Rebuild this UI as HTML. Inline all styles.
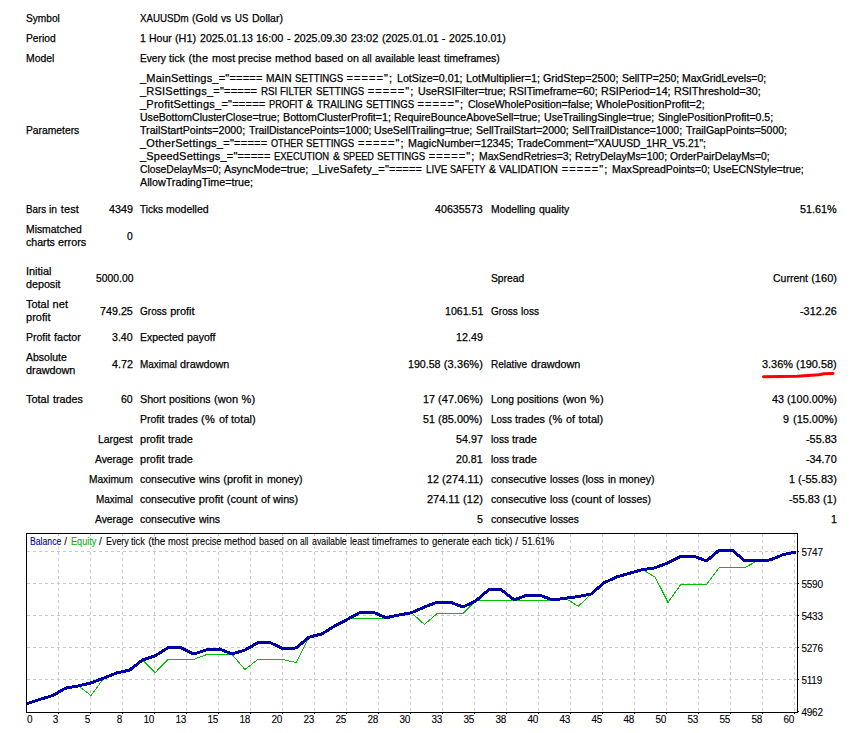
<!DOCTYPE html>
<html><head><meta charset="utf-8"><style>
html,body{margin:0;padding:0;background:#fff}
body{width:861px;height:733px;overflow:hidden;position:relative;font-family:"Liberation Sans",sans-serif;font-size:11px;color:#000}
.t{position:absolute;white-space:pre;line-height:13px;transform-origin:0 0;-webkit-text-stroke-width:0.25px}
.c{position:absolute;white-space:pre;font-size:10px;line-height:10px;letter-spacing:-0.3px;-webkit-text-stroke-width:0.1px;transform-origin:0 0}
.hd{font-size:10px;letter-spacing:-0.254px}
.u{position:absolute}
</style></head><body>
<svg style="position:absolute;left:0;top:0" width="861" height="733">
<g stroke="#c8c8c8" stroke-width="1" stroke-dasharray="3 3" shape-rendering="crispEdges"><line x1="27" y1="551.5" x2="797" y2="551.5"/><line x1="27" y1="583.5" x2="797" y2="583.5"/><line x1="27" y1="615.5" x2="797" y2="615.5"/><line x1="27" y1="647.5" x2="797" y2="647.5"/><line x1="27" y1="679.5" x2="797" y2="679.5"/><line x1="58.5" y1="534" x2="58.5" y2="712"/><line x1="90.5" y1="534" x2="90.5" y2="712"/><line x1="122.5" y1="534" x2="122.5" y2="712"/><line x1="154.5" y1="534" x2="154.5" y2="712"/><line x1="186.5" y1="534" x2="186.5" y2="712"/><line x1="218.5" y1="534" x2="218.5" y2="712"/><line x1="250.5" y1="534" x2="250.5" y2="712"/><line x1="282.5" y1="534" x2="282.5" y2="712"/><line x1="314.5" y1="534" x2="314.5" y2="712"/><line x1="346.5" y1="534" x2="346.5" y2="712"/><line x1="378.5" y1="534" x2="378.5" y2="712"/><line x1="410.5" y1="534" x2="410.5" y2="712"/><line x1="442.5" y1="534" x2="442.5" y2="712"/><line x1="474.5" y1="534" x2="474.5" y2="712"/><line x1="506.5" y1="534" x2="506.5" y2="712"/><line x1="538.5" y1="534" x2="538.5" y2="712"/><line x1="570.5" y1="534" x2="570.5" y2="712"/><line x1="602.5" y1="534" x2="602.5" y2="712"/><line x1="634.5" y1="534" x2="634.5" y2="712"/><line x1="666.5" y1="534" x2="666.5" y2="712"/><line x1="698.5" y1="534" x2="698.5" y2="712"/><line x1="730.5" y1="534" x2="730.5" y2="712"/><line x1="762.5" y1="534" x2="762.5" y2="712"/><line x1="794.5" y1="534" x2="794.5" y2="712"/></g>
<rect x="28" y="536" width="528" height="11" fill="#fff"/>
<polyline points="27.0,703.7 39.8,699.4 52.6,695.6 65.5,688.2 78.3,685.9 91.1,695.6 103.9,678.0 116.7,672.9 129.6,670.1 142.4,660.1 155.2,672.6 168.0,659.4 180.8,659.4 193.7,659.4 206.5,654.6 219.3,654.6 232.1,654.6 244.9,669.4 257.8,659.6 270.6,659.6 283.4,659.6 296.2,662.6 309.0,637.2 321.9,633.9 334.7,626.0 347.5,618.3 360.3,618.3 373.1,618.3 386.0,618.3 398.8,615.1 411.6,612.7 424.4,624.5 437.2,613.5 450.1,613.5 462.9,613.5 475.7,601.0 488.5,600.4 501.3,600.2 514.2,600.2 527.0,600.2 539.8,600.2 552.6,600.3 565.4,598.2 578.3,606.3 591.1,594.0 603.9,582.9 616.7,577.0 629.5,573.3 642.4,569.6 655.2,577.1 668.0,602.4 680.8,584.5 693.6,584.5 706.5,584.5 719.3,567.6 732.1,567.6 744.9,567.6 757.7,560.6 770.6,559.9 783.4,554.5 796.2,551.9" fill="none" stroke="#00c000" stroke-width="1" stroke-linejoin="miter" shape-rendering="crispEdges"/>
<polyline points="27.0,703.7 39.8,699.4 52.6,695.6 65.5,688.2 78.3,685.9 91.1,682.9 103.9,678.0 116.7,672.9 129.6,670.1 142.4,660.1 155.2,655.7 168.0,647.8 180.8,647.8 193.7,654.0 206.5,649.9 219.3,649.0 232.1,653.9 244.9,650.1 257.8,642.8 270.6,642.8 283.4,648.9 296.2,647.9 309.0,637.2 321.9,633.9 334.7,626.0 347.5,619.3 360.3,612.3 373.1,612.1 386.0,617.7 398.8,615.1 411.6,612.7 424.4,607.1 437.2,602.1 450.1,602.1 462.9,607.0 475.7,601.0 488.5,589.9 501.3,589.8 514.2,599.9 527.0,595.1 539.8,595.1 552.6,600.0 565.4,598.2 578.3,596.6 591.1,594.0 603.9,582.9 616.7,577.0 629.5,573.3 642.4,569.6 655.2,567.8 668.0,562.8 680.8,556.2 693.6,556.1 706.5,561.0 719.3,550.0 732.1,550.0 744.9,561.0 757.7,560.6 770.6,559.9 783.4,554.5 796.2,551.9" fill="none" stroke="#0000a8" stroke-width="3" stroke-linejoin="round" shape-rendering="crispEdges"/>
<rect x="26.5" y="533.5" width="771" height="179" fill="none" stroke="#000" stroke-width="1" shape-rendering="crispEdges"/>
<g stroke="#000" stroke-width="1" shape-rendering="crispEdges"><line x1="798" y1="551.5" x2="799" y2="551.5"/><line x1="798" y1="583.5" x2="799" y2="583.5"/><line x1="798" y1="615.5" x2="799" y2="615.5"/><line x1="798" y1="647.5" x2="799" y2="647.5"/><line x1="798" y1="679.5" x2="799" y2="679.5"/><line x1="798" y1="711.5" x2="799" y2="711.5"/><line x1="58.5" y1="713" x2="58.5" y2="714"/><line x1="90.5" y1="713" x2="90.5" y2="714"/><line x1="122.5" y1="713" x2="122.5" y2="714"/><line x1="154.5" y1="713" x2="154.5" y2="714"/><line x1="186.5" y1="713" x2="186.5" y2="714"/><line x1="218.5" y1="713" x2="218.5" y2="714"/><line x1="250.5" y1="713" x2="250.5" y2="714"/><line x1="282.5" y1="713" x2="282.5" y2="714"/><line x1="314.5" y1="713" x2="314.5" y2="714"/><line x1="346.5" y1="713" x2="346.5" y2="714"/><line x1="378.5" y1="713" x2="378.5" y2="714"/><line x1="410.5" y1="713" x2="410.5" y2="714"/><line x1="442.5" y1="713" x2="442.5" y2="714"/><line x1="474.5" y1="713" x2="474.5" y2="714"/><line x1="506.5" y1="713" x2="506.5" y2="714"/><line x1="538.5" y1="713" x2="538.5" y2="714"/><line x1="570.5" y1="713" x2="570.5" y2="714"/><line x1="602.5" y1="713" x2="602.5" y2="714"/><line x1="634.5" y1="713" x2="634.5" y2="714"/><line x1="666.5" y1="713" x2="666.5" y2="714"/><line x1="698.5" y1="713" x2="698.5" y2="714"/><line x1="730.5" y1="713" x2="730.5" y2="714"/><line x1="762.5" y1="713" x2="762.5" y2="714"/><line x1="794.5" y1="713" x2="794.5" y2="714"/></g>
</svg>
<div class="c" style="left:801.6px;top:548px">5747</div>
<div class="c" style="left:801.6px;top:580px">5590</div>
<div class="c" style="left:801.6px;top:612px">5433</div>
<div class="c" style="left:801.6px;top:644px">5276</div>
<div class="c" style="left:801.6px;top:676px">5119</div>
<div class="c" style="left:801.6px;top:708px">4962</div>
<div class="c" style="left:27px;top:715px">0</div>
<div class="c cr" style="right:803px;top:715px">3</div>
<div class="c cr" style="right:771px;top:715px">5</div>
<div class="c cr" style="right:739px;top:715px">8</div>
<div class="c cr" style="right:707px;top:715px">10</div>
<div class="c cr" style="right:675px;top:715px">13</div>
<div class="c cr" style="right:643px;top:715px">15</div>
<div class="c cr" style="right:611px;top:715px">18</div>
<div class="c cr" style="right:579px;top:715px">20</div>
<div class="c cr" style="right:547px;top:715px">23</div>
<div class="c cr" style="right:515px;top:715px">25</div>
<div class="c cr" style="right:483px;top:715px">28</div>
<div class="c cr" style="right:451px;top:715px">30</div>
<div class="c cr" style="right:419px;top:715px">33</div>
<div class="c cr" style="right:387px;top:715px">35</div>
<div class="c cr" style="right:355px;top:715px">38</div>
<div class="c cr" style="right:323px;top:715px">40</div>
<div class="c cr" style="right:291px;top:715px">43</div>
<div class="c cr" style="right:259px;top:715px">45</div>
<div class="c cr" style="right:227px;top:715px">48</div>
<div class="c cr" style="right:195px;top:715px">50</div>
<div class="c cr" style="right:163px;top:715px">53</div>
<div class="c cr" style="right:131px;top:715px">55</div>
<div class="c cr" style="right:99px;top:715px">58</div>
<div class="c cr" style="right:67px;top:715px">60</div>
<div class="c" style="left:30.00px;top:537px;color:#0000a0;transform:scaleX(0.8666);letter-spacing:0">Balance</div>
<div class="c" style="left:64.30px;top:537px;letter-spacing:0.734px">/</div>
<div class="c" style="left:70.80px;top:537px;color:#00b400;transform:scaleX(0.9101);letter-spacing:0">Equity</div>
<div class="c" style="left:99.08px;top:537px;letter-spacing:0.734px">/</div>
<div class="c" style="left:105.58px;top:537px;transform:scaleX(0.8902);letter-spacing:0">Every</div>
<div class="c" style="left:131.32px;top:537px;transform:scaleX(0.9228);letter-spacing:0">tick</div>
<div class="c" style="left:148.14px;top:537px;letter-spacing:0.026px">(the</div>
<div class="c" style="left:168.46px;top:537px;transform:scaleX(0.9388);letter-spacing:0">most</div>
<div class="c" style="left:191.79px;top:537px;transform:scaleX(0.9135);letter-spacing:0">precise</div>
<div class="c" style="left:224.23px;top:537px;transform:scaleX(0.9547);letter-spacing:0">method</div>
<div class="c" style="left:259.07px;top:537px;transform:scaleX(0.9142);letter-spacing:0">based</div>
<div class="c" style="left:286.96px;top:537px;transform:scaleX(0.9424);letter-spacing:0">on</div>
<div class="c" style="left:300.43px;top:537px;transform:scaleX(0.8463);letter-spacing:0">all</div>
<div class="c" style="left:311.89px;top:537px;transform:scaleX(0.8807);letter-spacing:0">available</div>
<div class="c" style="left:349.65px;top:537px;transform:scaleX(0.9162);letter-spacing:0">least</div>
<div class="c" style="left:371.98px;top:537px;transform:scaleX(0.9187);letter-spacing:0">timeframes</div>
<div class="c" style="left:420.40px;top:537px;letter-spacing:0.077px">to</div>
<div class="c" style="left:431.88px;top:537px;transform:scaleX(0.9441);letter-spacing:0">generate</div>
<div class="c" style="left:472.14px;top:537px;transform:scaleX(0.9063);letter-spacing:0">each</div>
<div class="c" style="left:494.78px;top:537px;transform:scaleX(0.9505);letter-spacing:0">tick)</div>
<div class="c" style="left:515.20px;top:537px;letter-spacing:0.734px">/</div>
<div class="c" style="left:521.70px;top:537px;transform:scaleX(0.9523);letter-spacing:0">51.61%</div>
<div class="t" style="left:26.00px;top:12px;transform:scaleX(0.9221)">Symbol</div>
<div class="t" style="left:140.00px;top:12px;transform:scaleX(0.8845)">XAUUSDm</div>
<div class="t" style="left:192.10px;top:12px;transform:scaleX(0.9519)">(Gold</div>
<div class="t" style="left:221.14px;top:12px;transform:scaleX(0.9276)">vs</div>
<div class="t" style="left:234.78px;top:12px;transform:scaleX(0.8721)">US</div>
<div class="t" style="left:251.54px;top:12px;transform:scaleX(0.9553)">Dollar)</div>
<div class="t" style="left:26.00px;top:32px;transform:scaleX(0.9349)">Period</div>
<div class="t" style="left:140.00px;top:32px;transform:scaleX(0.9661)">1</div>
<div class="t" style="left:149.31px;top:32px;transform:scaleX(0.9546)">Hour</div>
<div class="t" style="left:175.47px;top:32px;transform:scaleX(0.9865)">(H1)</div>
<div class="t" style="left:199.96px;top:32px;transform:scaleX(0.9621)">2025.01.13</div>
<div class="t" style="left:256.33px;top:32px;transform:scaleX(0.9928)">16:00</div>
<div class="t" style="left:287.06px;top:32px;letter-spacing:0.319px">-</div>
<div class="t" style="left:294.44px;top:32px;transform:scaleX(0.9599)">2025.09.30</div>
<div class="t" style="left:350.69px;top:32px;letter-spacing:0.010px">23:02</div>
<div class="t" style="left:381.66px;top:32px;transform:scaleX(0.9670)">(2025.01.01</div>
<div class="t" style="left:441.83px;top:32px;letter-spacing:0.319px">-</div>
<div class="t" style="left:449.22px;top:32px;transform:scaleX(0.9670)">2025.10.01)</div>
<div class="t" style="left:26.00px;top:52px;transform:scaleX(0.9437)">Model</div>
<div class="t" style="left:140.00px;top:52px;transform:scaleX(0.9221)">Every</div>
<div class="t" style="left:169.33px;top:52px;transform:scaleX(0.9561)">tick</div>
<div class="t" style="left:188.51px;top:52px;letter-spacing:0.198px">(the</div>
<div class="t" style="left:211.67px;top:52px;transform:scaleX(0.9725)">most</div>
<div class="t" style="left:238.26px;top:52px;transform:scaleX(0.9467)">precise</div>
<div class="t" style="left:275.23px;top:52px;transform:scaleX(0.9890)">method</div>
<div class="t" style="left:314.93px;top:52px;transform:scaleX(0.9469)">based</div>
<div class="t" style="left:346.72px;top:52px;transform:scaleX(0.9755)">on</div>
<div class="t" style="left:362.07px;top:52px;transform:scaleX(0.8770)">all</div>
<div class="t" style="left:375.13px;top:52px;transform:scaleX(0.9128)">available</div>
<div class="t" style="left:418.17px;top:52px;transform:scaleX(0.9487)">least</div>
<div class="t" style="left:443.62px;top:52px;transform:scaleX(0.9624)">timeframes)</div>
<div class="t" style="left:140.00px;top:72px;letter-spacing:0.202px">_MainSettings_="=====</div>
<div class="t" style="left:265.92px;top:72px;transform:scaleX(0.9300)">MAIN</div>
<div class="t" style="left:294.89px;top:72px;transform:scaleX(0.8760)">SETTINGS</div>
<div class="t" style="left:346.47px;top:72px;letter-spacing:1.086px">=====";</div>
<div class="t" style="left:396.56px;top:72px;transform:scaleX(0.9704)">LotSize=0.01;</div>
<div class="t" style="left:465.55px;top:72px;transform:scaleX(0.9893)">LotMultiplier=1;</div>
<div class="t" style="left:543.05px;top:72px;transform:scaleX(0.9750)">GridStep=2500;</div>
<div class="t" style="left:621.88px;top:72px;transform:scaleX(0.9497)">SellTP=250;</div>
<div class="t" style="left:682.48px;top:72px;transform:scaleX(0.9455)">MaxGridLevels=0;</div>
<div class="t" style="left:140.00px;top:85px;letter-spacing:0.225px">_RSISettings_="=====</div>
<div class="t" style="left:260.68px;top:85px;transform:scaleX(0.8872)">RSI</div>
<div class="t" style="left:280.36px;top:85px;transform:scaleX(0.8710)">FILTER</div>
<div class="t" style="left:316.05px;top:85px;transform:scaleX(0.8770)">SETTINGS</div>
<div class="t" style="left:367.69px;top:85px;letter-spacing:1.094px">=====";</div>
<div class="t" style="left:417.84px;top:85px;transform:scaleX(0.9670)">UseRSIFilter=true;</div>
<div class="t" style="left:509.02px;top:85px;transform:scaleX(0.9617)">RSITimeframe=60;</div>
<div class="t" style="left:601.11px;top:85px;transform:scaleX(0.9684)">RSIPeriod=14;</div>
<div class="t" style="left:674.09px;top:85px;transform:scaleX(0.9734)">RSIThreshold=30;</div>
<div class="t" style="left:140.00px;top:98px;letter-spacing:0.234px">_ProfitSettings_="=====</div>
<div class="t" style="left:268.88px;top:98px;transform:scaleX(0.8466)">PROFIT</div>
<div class="t" style="left:306.43px;top:98px;transform:scaleX(0.9549)">&amp;</div>
<div class="t" style="left:316.84px;top:98px;transform:scaleX(0.8999)">TRAILING</div>
<div class="t" style="left:365.89px;top:98px;transform:scaleX(0.8770)">SETTINGS</div>
<div class="t" style="left:417.53px;top:98px;letter-spacing:1.094px">=====";</div>
<div class="t" style="left:467.68px;top:98px;transform:scaleX(0.9502)">CloseWholePosition=false;</div>
<div class="t" style="left:595.71px;top:98px;transform:scaleX(0.9749)">WholePositionProfit=2;</div>
<div class="t" style="left:140.00px;top:111px;transform:scaleX(0.9577)">UseBottomClusterClose=true;</div>
<div class="t" style="left:283.03px;top:111px;transform:scaleX(0.9727)">BottomClusterProfit=1;</div>
<div class="t" style="left:394.36px;top:111px;transform:scaleX(0.9516)">RequireBounceAboveSell=true;</div>
<div class="t" style="left:544.10px;top:111px;transform:scaleX(0.9636)">UseTrailingSingle=true;</div>
<div class="t" style="left:657.57px;top:111px;transform:scaleX(0.9581)">SinglePositionProfit=0.5;</div>
<div class="t" style="left:140.00px;top:124px;transform:scaleX(0.9671)">TrailStartPoints=2000;</div>
<div class="t" style="left:248.55px;top:124px;transform:scaleX(0.9544)">TrailDistancePoints=1000;</div>
<div class="t" style="left:374.40px;top:124px;transform:scaleX(0.9639)">UseSellTrailing=true;</div>
<div class="t" style="left:476.11px;top:124px;transform:scaleX(0.9613)">SellTrailStart=2000;</div>
<div class="t" style="left:572.28px;top:124px;transform:scaleX(0.9483)">SellTrailDistance=1000;</div>
<div class="t" style="left:685.76px;top:124px;transform:scaleX(0.9496)">TrailGapPoints=5000;</div>
<div class="t" style="left:140.00px;top:137px;letter-spacing:0.250px">_OtherSettings_="=====</div>
<div class="t" style="left:270.84px;top:137px;transform:scaleX(0.8315)">OTHER</div>
<div class="t" style="left:306.25px;top:137px;transform:scaleX(0.8768)">SETTINGS</div>
<div class="t" style="left:357.89px;top:137px;letter-spacing:1.093px">=====";</div>
<div class="t" style="left:408.03px;top:137px;transform:scaleX(0.9709)">MagicNumber=12345;</div>
<div class="t" style="left:516.81px;top:137px;transform:scaleX(0.9345)">TradeComment="XAUUSD_1HR_V5.21";</div>
<div class="t" style="left:140.00px;top:150px;letter-spacing:0.199px">_SpeedSettings_="=====</div>
<div class="t" style="left:274.01px;top:150px;transform:scaleX(0.8592)">EXECUTION</div>
<div class="t" style="left:332.55px;top:150px;transform:scaleX(0.9531)">&amp;</div>
<div class="t" style="left:342.94px;top:150px;transform:scaleX(0.8303)">SPEED</div>
<div class="t" style="left:377.30px;top:150px;transform:scaleX(0.8753)">SETTINGS</div>
<div class="t" style="left:428.84px;top:150px;letter-spacing:1.081px">=====";</div>
<div class="t" style="left:478.90px;top:150px;transform:scaleX(0.9550)">MaxSendRetries=3;</div>
<div class="t" style="left:574.85px;top:150px;transform:scaleX(0.9501)">RetryDelayMs=100;</div>
<div class="t" style="left:670.31px;top:150px;transform:scaleX(0.9398)">OrderPairDelayMs=0;</div>
<div class="t" style="left:140.00px;top:163px;transform:scaleX(0.9365)">CloseDelayMs=0;</div>
<div class="t" style="left:224.42px;top:163px;transform:scaleX(0.9817)">AsyncMode=true;</div>
<div class="t" style="left:312.16px;top:163px;letter-spacing:0.212px">_LiveSafety_="=====</div>
<div class="t" style="left:425.63px;top:163px;transform:scaleX(0.8921)">LIVE</div>
<div class="t" style="left:450.31px;top:163px;transform:scaleX(0.8247)">SAFETY</div>
<div class="t" style="left:489.00px;top:163px;transform:scaleX(0.9552)">&amp;</div>
<div class="t" style="left:499.42px;top:163px;transform:scaleX(0.9234)">VALIDATION</div>
<div class="t" style="left:561.71px;top:163px;letter-spacing:1.096px">=====";</div>
<div class="t" style="left:611.87px;top:163px;transform:scaleX(0.9568)">MaxSpreadPoints=0;</div>
<div class="t" style="left:713.27px;top:163px;transform:scaleX(0.9482)">UseECNStyle=true;</div>
<div class="t" style="left:140.00px;top:176px;transform:scaleX(0.9772)">AllowTradingTime=true;</div>
<div class="t" style="left:26.00px;top:124px;transform:scaleX(0.9362)">Parameters</div>
<div class="t" style="left:26.00px;top:203px;transform:scaleX(0.8874)">Bars</div>
<div class="t" style="left:49.47px;top:203px;transform:scaleX(0.9344)">in</div>
<div class="t" style="left:60.87px;top:203px;letter-spacing:0.109px">test</div>
<div class="t" style="left:108.97px;top:203px;transform:scaleX(0.9814)">4349</div>
<div class="t" style="left:140.00px;top:203px;transform:scaleX(0.9096)">Ticks</div>
<div class="t" style="left:166.38px;top:203px;transform:scaleX(0.9554)">modelled</div>
<div class="t" style="left:435.41px;top:203px;transform:scaleX(0.9722)">40635573</div>
<div class="t" style="left:491.00px;top:203px;transform:scaleX(0.9426)">Modelling</div>
<div class="t" style="left:538.78px;top:203px;transform:scaleX(0.9538)">quality</div>
<div class="t" style="left:800.24px;top:203px;transform:scaleX(0.9852)">51.61%</div>
<div class="t" style="left:26.00px;top:223px;transform:scaleX(0.9425)">Mismatched</div>
<div class="t" style="left:26.00px;top:236px;transform:scaleX(0.9654)">charts</div>
<div class="t" style="left:58.33px;top:236px;transform:scaleX(0.9825)">errors</div>
<div class="t" style="left:127.29px;top:230px;transform:scaleX(0.9318)">0</div>
<div class="t" style="left:26.00px;top:265px;transform:scaleX(0.9900)">Initial</div>
<div class="t" style="left:26.00px;top:278px;transform:scaleX(0.9754)">deposit</div>
<div class="t" style="left:95.57px;top:272px;transform:scaleX(0.9413)">5000.00</div>
<div class="t" style="left:491.00px;top:272px;transform:scaleX(0.9353)">Spread</div>
<div class="t" style="left:772.79px;top:272px;transform:scaleX(0.9538)">Current</div>
<div class="t" style="left:811.18px;top:272px;letter-spacing:0.027px">(160)</div>
<div class="t" style="left:26.00px;top:298px;transform:scaleX(0.9957)">Total</div>
<div class="t" style="left:52.54px;top:298px;letter-spacing:0.060px">net</div>
<div class="t" style="left:26.00px;top:311px;letter-spacing:0.008px">profit</div>
<div class="t" style="left:100.14px;top:305px;transform:scaleX(0.9763)">749.25</div>
<div class="t" style="left:140.00px;top:305px;transform:scaleX(0.9113)">Gross</div>
<div class="t" style="left:170.14px;top:305px;letter-spacing:0.008px">profit</div>
<div class="t" style="left:444.62px;top:305px;transform:scaleX(0.9651)">1061.51</div>
<div class="t" style="left:491.00px;top:305px;transform:scaleX(0.9113)">Gross</div>
<div class="t" style="left:521.14px;top:305px;transform:scaleX(0.9211)">loss</div>
<div class="t" style="left:800.23px;top:305px;transform:scaleX(0.9856)">-312.26</div>
<div class="t" style="left:26.00px;top:331px;transform:scaleX(0.9519)">Profit</div>
<div class="t" style="left:53.85px;top:331px;transform:scaleX(0.9768)">factor</div>
<div class="t" style="left:112.33px;top:331px;transform:scaleX(0.9650)">3.40</div>
<div class="t" style="left:140.00px;top:331px;transform:scaleX(0.9515)">Expected</div>
<div class="t" style="left:187.05px;top:331px;transform:scaleX(0.9562)">payoff</div>
<div class="t" style="left:456.15px;top:331px;transform:scaleX(0.9751)">12.49</div>
<div class="t" style="left:26.00px;top:351px;transform:scaleX(0.9527)">Absolute</div>
<div class="t" style="left:26.00px;top:364px;transform:scaleX(0.9846)">drawdown</div>
<div class="t" style="left:112.09px;top:358px;transform:scaleX(0.9763)">4.72</div>
<div class="t" style="left:140.00px;top:358px;transform:scaleX(0.9027)">Maximal</div>
<div class="t" style="left:180.36px;top:358px;transform:scaleX(0.9846)">drawdown</div>
<div class="t" style="left:407.92px;top:358px;transform:scaleX(0.9668)">190.58</div>
<div class="t" style="left:443.85px;top:358px;letter-spacing:0.088px">(3.36%)</div>
<div class="t" style="left:491.00px;top:358px;transform:scaleX(0.9104)">Relative</div>
<div class="t" style="left:530.58px;top:358px;transform:scaleX(0.9846)">drawdown</div>
<div class="t" style="left:761.92px;top:358px;transform:scaleX(0.9924)">3.36%</div>
<div class="t" style="left:796.28px;top:358px;transform:scaleX(0.9935)">(190.58)</div>
<div class="t" style="left:26.00px;top:393px;transform:scaleX(0.9957)">Total</div>
<div class="t" style="left:52.54px;top:393px;transform:scaleX(0.9742)">trades</div>
<div class="t" style="left:121.28px;top:393px;transform:scaleX(0.9571)">60</div>
<div class="t" style="left:140.00px;top:393px;transform:scaleX(0.9745)">Short</div>
<div class="t" style="left:169.02px;top:393px;transform:scaleX(0.9584)">positions</div>
<div class="t" style="left:214.03px;top:393px;letter-spacing:0.052px">(won</div>
<div class="t" style="left:241.48px;top:393px;letter-spacing:0.324px">%)</div>
<div class="t" style="left:422.81px;top:393px;transform:scaleX(0.9725)">17</div>
<div class="t" style="left:438.12px;top:393px;letter-spacing:0.030px">(47.06%)</div>
<div class="t" style="left:491.00px;top:393px;transform:scaleX(0.9387)">Long</div>
<div class="t" style="left:517.38px;top:393px;transform:scaleX(0.9584)">positions</div>
<div class="t" style="left:562.39px;top:393px;letter-spacing:0.052px">(won</div>
<div class="t" style="left:589.83px;top:393px;letter-spacing:0.324px">%)</div>
<div class="t" style="left:771.70px;top:393px;transform:scaleX(0.9802)">43</div>
<div class="t" style="left:787.10px;top:393px;transform:scaleX(0.9829)">(100.00%)</div>
<div class="t" style="left:140.00px;top:413px;transform:scaleX(0.9519)">Profit</div>
<div class="t" style="left:167.85px;top:413px;transform:scaleX(0.9742)">trades</div>
<div class="t" style="left:201.03px;top:413px;letter-spacing:0.324px">(%</div>
<div class="t" style="left:218.53px;top:413px;transform:scaleX(0.9790)">of</div>
<div class="t" style="left:230.92px;top:413px;letter-spacing:0.082px">total)</div>
<div class="t" style="left:423.24px;top:413px;transform:scaleX(0.9679)">51</div>
<div class="t" style="left:438.49px;top:413px;transform:scaleX(0.9971)">(85.00%)</div>
<div class="t" style="left:491.00px;top:413px;transform:scaleX(0.9017)">Loss</div>
<div class="t" style="left:515.36px;top:413px;transform:scaleX(0.9742)">trades</div>
<div class="t" style="left:548.54px;top:413px;letter-spacing:0.324px">(%</div>
<div class="t" style="left:566.04px;top:413px;transform:scaleX(0.9790)">of</div>
<div class="t" style="left:578.43px;top:413px;letter-spacing:0.082px">total)</div>
<div class="t" style="left:783.18px;top:413px;transform:scaleX(0.9807)">9</div>
<div class="t" style="left:792.58px;top:413px;transform:scaleX(0.9951)">(15.00%)</div>
<div class="t" style="left:98.24px;top:433px;transform:scaleX(0.9472)">Largest</div>
<div class="t" style="left:140.00px;top:433px;letter-spacing:0.008px">profit</div>
<div class="t" style="left:167.91px;top:433px;transform:scaleX(0.9904)">trade</div>
<div class="t" style="left:456.09px;top:433px;transform:scaleX(0.9774)">54.97</div>
<div class="t" style="left:491.00px;top:433px;transform:scaleX(0.9211)">loss</div>
<div class="t" style="left:512.41px;top:433px;transform:scaleX(0.9904)">trade</div>
<div class="t" style="left:806.17px;top:433px;transform:scaleX(0.9879)">-55.83</div>
<div class="t" style="left:94.74px;top:453px;transform:scaleX(0.9381)">Average</div>
<div class="t" style="left:140.00px;top:453px;letter-spacing:0.008px">profit</div>
<div class="t" style="left:167.91px;top:453px;transform:scaleX(0.9904)">trade</div>
<div class="t" style="left:456.46px;top:453px;transform:scaleX(0.9641)">20.81</div>
<div class="t" style="left:491.00px;top:453px;transform:scaleX(0.9211)">loss</div>
<div class="t" style="left:512.41px;top:453px;transform:scaleX(0.9904)">trade</div>
<div class="t" style="left:806.34px;top:453px;transform:scaleX(0.9825)">-34.70</div>
<div class="t" style="left:89.08px;top:473px;transform:scaleX(0.9214)">Maximum</div>
<div class="t" style="left:140.00px;top:473px;transform:scaleX(0.9542)">consecutive</div>
<div class="t" style="left:198.83px;top:473px;transform:scaleX(0.9533)">wins</div>
<div class="t" style="left:223.21px;top:473px;letter-spacing:0.069px">(profit</div>
<div class="t" style="left:255.21px;top:473px;transform:scaleX(0.9344)">in</div>
<div class="t" style="left:266.60px;top:473px;transform:scaleX(0.9680)">money)</div>
<div class="t" style="left:426.80px;top:473px;transform:scaleX(0.9689)">12</div>
<div class="t" style="left:442.07px;top:473px;letter-spacing:0.097px">(274.11)</div>
<div class="t" style="left:491.00px;top:473px;transform:scaleX(0.9542)">consecutive</div>
<div class="t" style="left:549.83px;top:473px;transform:scaleX(0.9247)">losses</div>
<div class="t" style="left:582.06px;top:473px;transform:scaleX(0.9516)">(loss</div>
<div class="t" style="left:607.57px;top:473px;transform:scaleX(0.9344)">in</div>
<div class="t" style="left:618.96px;top:473px;transform:scaleX(0.9680)">money)</div>
<div class="t" style="left:788.68px;top:473px;transform:scaleX(0.9664)">1</div>
<div class="t" style="left:797.99px;top:473px;letter-spacing:0.060px">(-55.83)</div>
<div class="t" style="left:96.03px;top:493px;transform:scaleX(0.9027)">Maximal</div>
<div class="t" style="left:140.00px;top:493px;transform:scaleX(0.9542)">consecutive</div>
<div class="t" style="left:198.83px;top:493px;letter-spacing:0.008px">profit</div>
<div class="t" style="left:226.74px;top:493px;letter-spacing:0.011px">(count</div>
<div class="t" style="left:260.78px;top:493px;transform:scaleX(0.9790)">of</div>
<div class="t" style="left:273.16px;top:493px;transform:scaleX(0.9768)">wins)</div>
<div class="t" style="left:426.80px;top:493px;transform:scaleX(0.9977)">274.11</div>
<div class="t" style="left:462.95px;top:493px;letter-spacing:0.122px">(12)</div>
<div class="t" style="left:491.00px;top:493px;transform:scaleX(0.9542)">consecutive</div>
<div class="t" style="left:549.83px;top:493px;transform:scaleX(0.9211)">loss</div>
<div class="t" style="left:571.24px;top:493px;letter-spacing:0.011px">(count</div>
<div class="t" style="left:605.28px;top:493px;transform:scaleX(0.9790)">of</div>
<div class="t" style="left:617.67px;top:493px;transform:scaleX(0.9451)">losses)</div>
<div class="t" style="left:788.68px;top:493px;transform:scaleX(0.9879)">-55.83</div>
<div class="t" style="left:822.90px;top:493px;letter-spacing:0.216px">(1)</div>
<div class="t" style="left:94.74px;top:513px;transform:scaleX(0.9381)">Average</div>
<div class="t" style="left:140.00px;top:513px;transform:scaleX(0.9542)">consecutive</div>
<div class="t" style="left:198.83px;top:513px;transform:scaleX(0.9533)">wins</div>
<div class="t" style="left:477.06px;top:513px;transform:scaleX(0.9695)">5</div>
<div class="t" style="left:491.00px;top:513px;transform:scaleX(0.9542)">consecutive</div>
<div class="t" style="left:549.83px;top:513px;transform:scaleX(0.9247)">losses</div>
<div class="t" style="left:831.08px;top:513px;transform:scaleX(0.9664)">1</div>
<svg class="u" style="left:0;top:0" width="861" height="733"><path d="M763.5,376.7 L797,376.2 L819,374.8 L824,373.7 L833,373.4" fill="none" stroke="#f00" stroke-width="3" stroke-linecap="round" stroke-linejoin="round"/></svg>
</body></html>
